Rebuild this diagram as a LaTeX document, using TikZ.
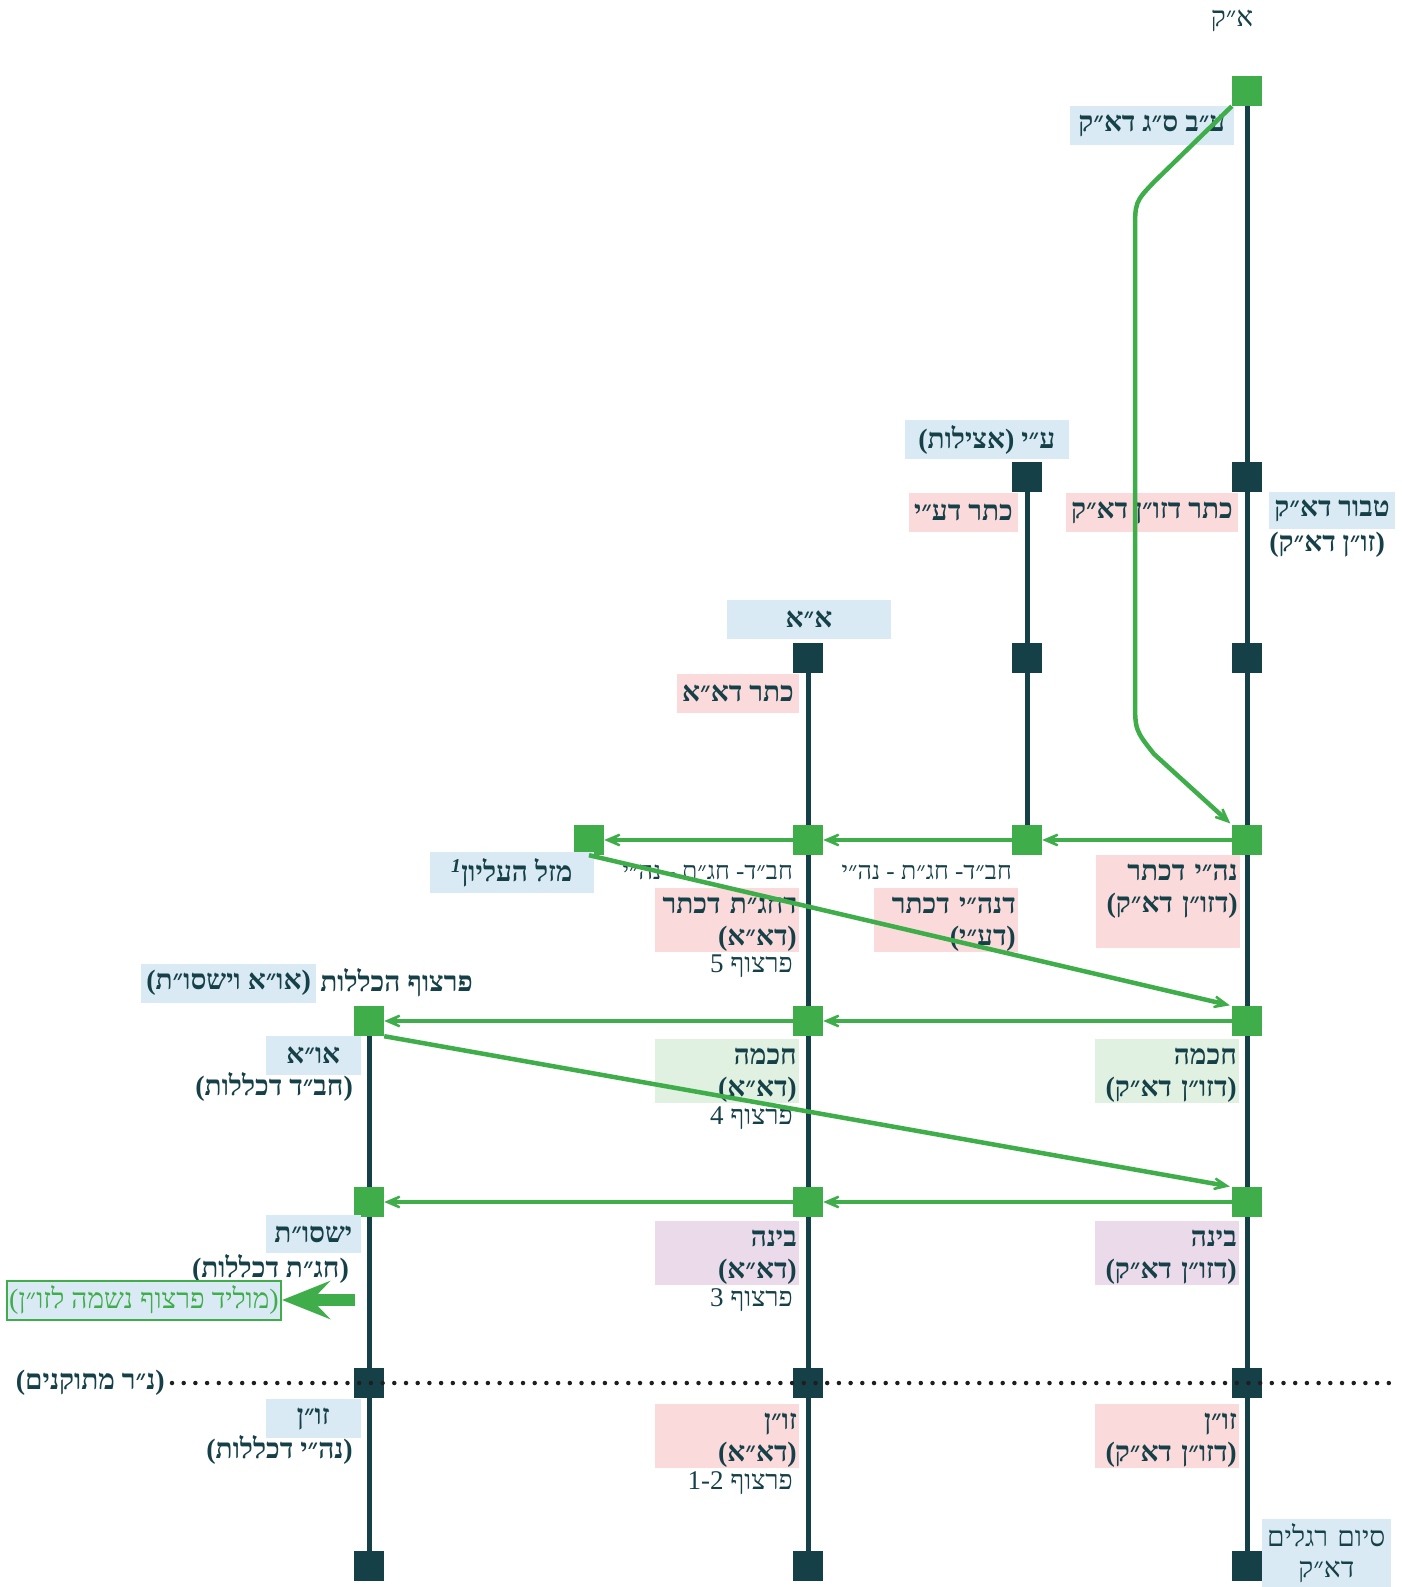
\documentclass[tikz,border=0pt]{standalone}
\usepackage{fontspec}
\usetikzlibrary{arrows.meta,calc,backgrounds}
\TeXXeTstate=1
\newfontfamily\heb[Script=Hebrew]{Liberation Serif}
\newcommand\hR[1]{\beginR #1\endR}
\newcommand\topst{\rule{0pt}{25pt}}
\definecolor{dk}{RGB}{22,64,72}
\definecolor{gr}{RGB}{63,174,74}
\definecolor{bbl}{RGB}{217,234,244}
\definecolor{bpk}{RGB}{250,218,219}
\definecolor{bgn}{RGB}{224,241,226}
\definecolor{bpu}{RGB}{234,218,234}
\definecolor{dotc}{RGB}{30,30,30}
\tikzset{
  sqr/.style={minimum size=30pt, inner sep=0pt, draw=none, fill=#1},
  dsq/.style={sqr=dk}, gsq/.style={sqr=gr},
  vline/.style={line width=5pt, draw=dk},
  garr/.style={line width=4.5pt, draw=gr, -{Stealth[length=28pt,width=24pt,inset=19pt]}},
  lbl/.style={font=\heb\bfseries\fontsize{28}{32.5}\selectfont, text=dk, inner xsep=5pt, inner ysep=4pt, align=right},
  boxbl/.style={lbl, fill=bbl},
  boxpk/.style={lbl, fill=bpk},
  colbox/.style={lbl, text width=140pt, inner xsep=2pt, inner ysep=0pt, fill=#1},
  reg/.style={font=\heb\fontsize{27}{31}\selectfont, text=dk, inner sep=0pt, align=right},
  small/.style={font=\heb\fontsize{25}{29}\selectfont, text=dk, inner sep=0pt, align=right},
  plainb/.style={lbl, inner sep=0pt},
  dotl/.style={line width=4.5pt, draw=dotc, line cap=round, dash pattern=on 0pt off 11.7pt},
}
\begin{document}
\begin{tikzpicture}[x=1pt,y=-1pt]
\useasboundingbox (0,0) rectangle (1402,1587);
% squares
\node[gsq] (R1) at (1247,91) {};
\node[dsq] (R2) at (1247,477) {};
\node[dsq] (R3) at (1247,658) {};
\node[gsq] (R4) at (1247,840) {};
\node[gsq] (R5) at (1247,1021) {};
\node[gsq] (R6) at (1247,1202) {};
\node[dsq] (R7) at (1247,1383) {};
\node[dsq] (R8) at (1247,1566) {};
\node[dsq] (Y2) at (1027,477) {};
\node[dsq] (Y3) at (1027,658) {};
\node[gsq] (Y4) at (1027,840) {};
\node[dsq] (M3) at (808,658) {};
\node[gsq] (M4) at (808,840) {};
\node[gsq] (M5) at (808,1021) {};
\node[gsq] (M6) at (808,1202) {};
\node[dsq] (M7) at (808,1383) {};
\node[dsq] (M8) at (808,1566) {};
\node[gsq] (Z4) at (589,840) {};
\node[gsq] (L5) at (369,1021) {};
\node[gsq] (L6) at (369,1202) {};
\node[dsq] (L7) at (369,1383) {};
\node[dsq] (L8) at (369,1566) {};
\begin{scope}[on background layer]
\draw[vline] (R1.center) -- (R8.center);
\draw[vline] (Y2.center) -- (Y4.center);
\draw[vline] (M3.center) -- (M8.center);
\draw[vline] (L5.center) -- (L8.center);
\end{scope}
% labels
\node[font=\heb\fontsize{28}{32}\selectfont, text=dk] (T0) at (1232,21) {\hR{א״ק}};
\node[boxbl, anchor=north east, minimum width=164pt, minimum height=39pt] (N1) at (1234,106) {\hR{ע״ב ס״ג דא״ק}};
\node[boxbl, anchor=north east, minimum width=164pt, minimum height=39pt, align=center] (N2) at (1069,420) {\hR{ע״י (אצילות)}};
\node[boxpk, anchor=north east, minimum height=39pt] (N3) at (1018,493) {\hR{כתר דע״י}};
\node[boxpk, anchor=north east, minimum height=39pt] (N4) at (1238,493) {\hR{כתר דזו״ן דא״ק}};
\node[boxbl, anchor=north east, minimum height=37pt] (N5) at (1395,492) {\hR{טבור דא״ק}};
\node[plainb, anchor=east] (N5b) at (1385,545) {\hR{(זו״ן דא״ק)}};
\node[boxbl, minimum width=164pt, minimum height=39pt] (N6) at (809,619) {\hR{א״א}};
\node[boxpk, anchor=north east, minimum height=39pt] (N7) at (799,674) {\hR{כתר דא״א}};
\node[boxbl, anchor=north east, minimum width=164pt, minimum height=41pt] (N8) at (594,852) {\hR{מזל העליון\textsuperscript{\itshape 1}}};
\node[small, anchor=east] (N9) at (793,872) {\hR{חב״ד- חג״ת - נה״י}};
\node[colbox=bpk, anchor=north east] (N10) at (799,888) {\topst\hR{דחג״ת דכתר}\\\hR{(דא״א)}};
\node[reg, anchor=east] (N11) at (793,966) {\hR{פרצוף 5}};
\node[small, anchor=east] (N12) at (1012,872) {\hR{חב״ד- חג״ת - נה״י}};
\node[colbox=bpk, anchor=north east] (N13) at (1018,888) {\topst\hR{דנה״י דכתר}\\\hR{(דע״י)}};
\node[colbox=bpk, anchor=north east] (N14) at (1240,855) {\topst\hR{נה״י דכתר}\\\hR{(דזו״ן דא״ק)}\rule[-35pt]{0pt}{0pt}};
\node[plainb, anchor=east] (N15a) at (473,983) {\hR{פרצוף הכללות}};
\node[boxbl, anchor=east, minimum height=39pt] (N15b) at ($(N15a.west)+(-4,0)$) {\hR{(או״א וישסו״ת)}};
\node[boxbl, anchor=north east, minimum width=95pt, minimum height=39pt] (N16) at (361,1036) {\hR{או״א}};
\node[plainb, anchor=east] (N16b) at (353,1087) {\hR{(חב״ד דכללות)}};
\node[colbox=bgn, anchor=north east] (N17) at (799,1039) {\topst\hR{חכמה}\\\hR{(דא״א)}};
\node[reg, anchor=east] (N17b) at (793,1118) {\hR{פרצוף 4}};
\node[colbox=bgn, anchor=north east] (N18) at (1239,1039) {\topst\hR{חכמה}\\\hR{(דזו״ן דא״ק)}};
\node[boxbl, anchor=north east, minimum width=95pt, minimum height=38pt] (N19) at (361,1215) {\hR{ישסו״ת}};
\node[plainb, anchor=east] (N19b) at (349,1269) {\hR{(חג״ת דכללות)}};
\node[font=\heb\fontsize{28}{32}\selectfont, text=gr, draw=gr, line width=2pt, fill=bbl, minimum width=274pt, minimum height=39pt, inner sep=2pt] (N20) at (144,1300) {\hR{(מוליד פרצוף נשמה לזו״ן)}};
\coordinate (A20) at (355,1300);
\draw[gr, line width=12pt, -{Stealth[length=48pt,width=38pt,inset=18pt]}] (A20) -- (N20.east);
\node[colbox=bpu, anchor=north east] (N21) at (799,1221) {\topst\hR{בינה}\\\hR{(דא״א)}};
\node[reg, anchor=east] (N21b) at (793,1300) {\hR{פרצוף 3}};
\node[colbox=bpu, anchor=north east] (N22) at (1239,1221) {\topst\hR{בינה}\\\hR{(דזו״ן דא״ק)}};
\node[plainb, anchor=east] (N23) at (165,1383) {\hR{(נ״ר מתוקנים)}};
\node[boxbl, anchor=north east, minimum width=95pt, minimum height=39pt] (N24) at (361,1399) {\hR{זו״ן}};
\node[plainb, anchor=east] (N24b) at (353,1450) {\hR{(נה״י דכללות)}};
\node[colbox=bpk, anchor=north east] (N25) at (799,1404) {\topst\hR{זו״ן}\\\hR{(דא״א)}};
\node[reg, anchor=east] (N25b) at (793,1483) {\hR{פרצוף \beginL 1-2\endL}};
\node[colbox=bpk, anchor=north east] (N26) at (1239,1404) {\topst\hR{זו״ן}\\\hR{(דזו״ן דא״ק)}};
\node[fill=bbl, font=\heb\fontsize{28}{31}\selectfont, text=dk, anchor=north east, text width=119pt, align=center, inner xsep=5pt, inner ysep=4pt, minimum height=68pt] (N27) at (1391,1519) {\hR{סיום רגלים}\\\hR{דא״ק}};
% green connectors
\coordinate (C1) at (1154,182);
\coordinate (C2) at (1135,233);
\coordinate (C3) at (1135,698);
\coordinate (C4) at (1154,754);
\draw[garr, shorten >=2pt] (R1.south west) -- (C1) .. controls (1135,202) .. (C2) -- (C3) .. controls (1135,730) .. (C4) -- (R4.north west);
\draw[garr] (R4) -- (Y4);
\draw[garr] (Y4) -- (M4);
\draw[garr] (M4) -- (Z4);
\draw[garr] (R5) -- (M5);
\draw[garr] (M5) -- (L5);
\draw[garr] (R6) -- (M6);
\draw[garr] (M6) -- (L6);
\draw[garr, shorten >=2pt] (Z4.south) -- (R5.north west);
\draw[garr, shorten >=2pt] (L5.south east) -- (R6.north west);
% dotted line
\coordinate (D1) at (1391,1383);
\draw[dotl] ($(N23.east)+(7,0)$) -- (D1);
\end{tikzpicture}
\end{document}
